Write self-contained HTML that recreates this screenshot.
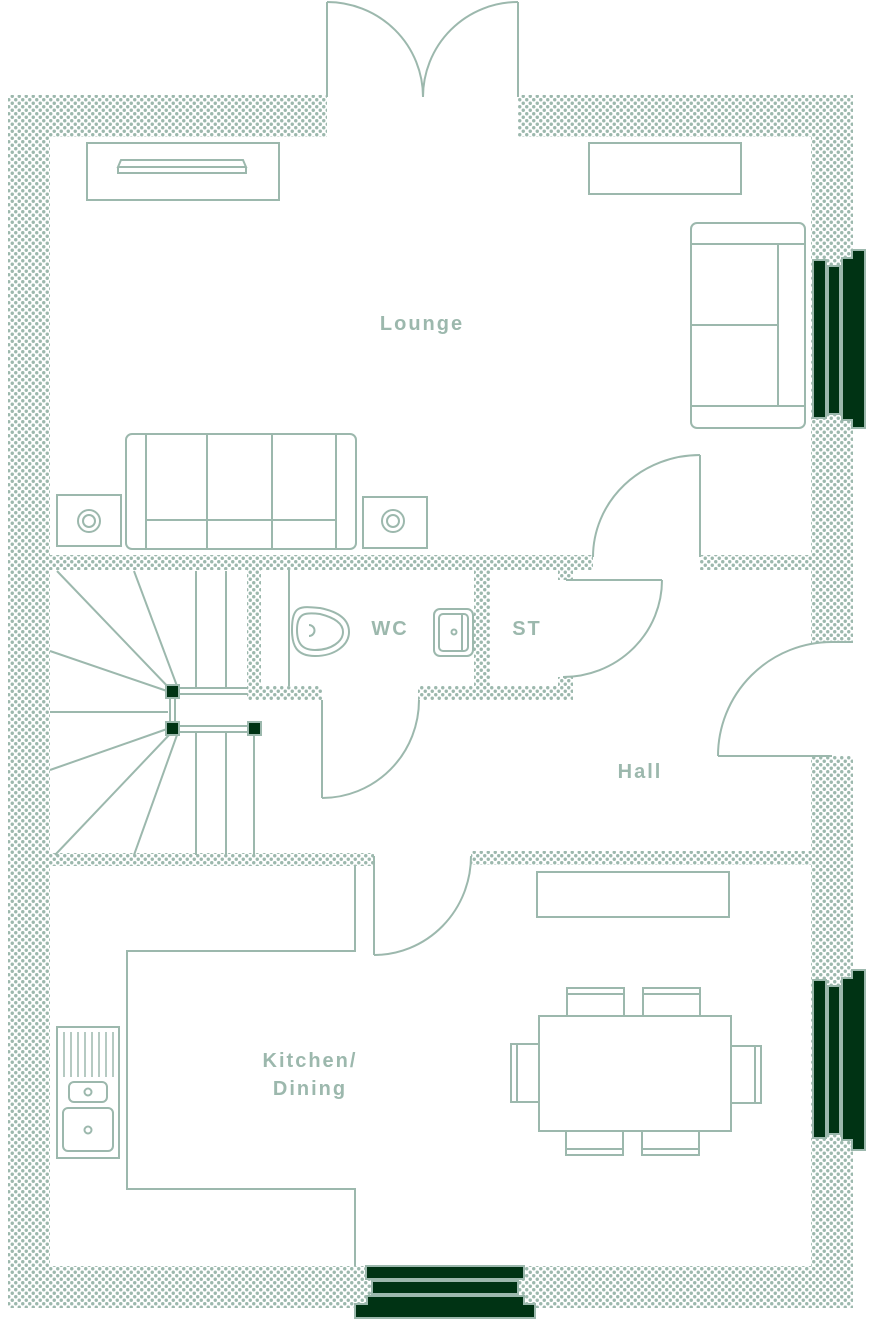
<!DOCTYPE html>
<html><head><meta charset="utf-8"><style>
html,body{margin:0;padding:0;background:#fff}
svg{display:block}
text{font-family:"Liberation Sans",sans-serif;font-size:20px;fill:#9cb8ad;letter-spacing:2px;font-weight:bold;text-anchor:middle}
</style></head><body>
<svg width="876" height="1328" viewBox="0 0 876 1328" xmlns="http://www.w3.org/2000/svg">
<defs>
<pattern id="d" width="7" height="7" patternUnits="userSpaceOnUse">
<rect width="7" height="7" fill="#fff"/>
<circle cx="1.75" cy="1.75" r="1.7" fill="#9cb8ad"/>
<circle cx="5.25" cy="5.25" r="1.7" fill="#9cb8ad"/>
</pattern>
</defs>
<g fill="url(#d)">
<rect x="8" y="95" width="319" height="42"/>
<rect x="518" y="95" width="335" height="42"/>
<rect x="8" y="95" width="42" height="1213"/>
<rect x="811" y="95" width="42" height="548"/>
<rect x="811" y="756" width="42" height="552"/>
<rect x="8" y="1266" width="845" height="42"/>
<rect x="50" y="555" width="543" height="15"/>
<rect x="700" y="555" width="111" height="15"/>
<rect x="558" y="570" width="15" height="10"/>
<rect x="247" y="570" width="14" height="130"/>
<rect x="247" y="686" width="75" height="14"/>
<rect x="418" y="686" width="155" height="14"/>
<rect x="558" y="677" width="15" height="10"/>
<rect x="474" y="570" width="16" height="116"/>
<rect x="50" y="853" width="324" height="13"/>
<rect x="471" y="851" width="340" height="14"/>
</g>
<g fill="none" stroke="#9cb8ad" stroke-width="2">
<line x1="327" y1="2" x2="327" y2="97"/>
<path d="M327 2 A96 95 0 0 1 423 97"/>
<line x1="518" y1="2" x2="518" y2="97"/>
<path d="M518 2 A95 95 0 0 0 423 97"/>
<line x1="700" y1="455" x2="700" y2="557"/>
<path d="M700 455 A107 102 0 0 0 593 557"/>
<line x1="566" y1="580" x2="662" y2="580"/>
<path d="M662 580 A99 97 0 0 1 563 677"/>
<line x1="322" y1="700" x2="322" y2="798"/>
<path d="M322 798 A97 98 0 0 0 419 700"/>
<line x1="718" y1="756" x2="832" y2="756"/>
<path d="M718 756 A114 114 0 0 1 832 642 L853 642"/>
<line x1="374" y1="856" x2="374" y2="955"/>
<path d="M374 955 A97 99 0 0 0 471 856"/>
<polyline points="355,866 355,951 127,951 127,1189 355,1189 355,1266"/>
<rect x="57" y="1027" width="62" height="131"/>
<g stroke-width="1.5">
<line x1="64" y1="1032" x2="64" y2="1077"/><line x1="71" y1="1032" x2="71" y2="1077"/><line x1="78" y1="1032" x2="78" y2="1077"/><line x1="85" y1="1032" x2="85" y2="1077"/><line x1="92" y1="1032" x2="92" y2="1077"/><line x1="99" y1="1032" x2="99" y2="1077"/><line x1="106" y1="1032" x2="106" y2="1077"/><line x1="113" y1="1032" x2="113" y2="1077"/>
</g>
<rect x="69" y="1082" width="38" height="20" rx="5"/>
<circle cx="88" cy="1092" r="3.5"/>
<rect x="63" y="1108" width="50" height="43" rx="5"/>
<circle cx="88" cy="1130" r="3.5"/>
<rect x="539" y="1016" width="192" height="115"/>
<rect x="567" y="988" width="57" height="28"/><line x1="567" y1="994" x2="624" y2="994"/>
<rect x="643" y="988" width="57" height="28"/><line x1="643" y1="994" x2="700" y2="994"/>
<rect x="566" y="1131" width="57" height="24"/><line x1="566" y1="1149" x2="623" y2="1149"/>
<rect x="642" y="1131" width="57" height="24"/><line x1="642" y1="1149" x2="699" y2="1149"/>
<rect x="511" y="1044" width="28" height="58"/><line x1="517" y1="1044" x2="517" y2="1102"/>
<rect x="731" y="1046" width="30" height="57"/><line x1="755" y1="1046" x2="755" y2="1103"/>
<rect x="537" y="872" width="192" height="45"/>
<rect x="87" y="143" width="192" height="57"/>
<path d="M118 167 L121 160 L243 160 L246 167 Z M118 167 L118 173 L246 173 L246 167"/>
<rect x="589" y="143" width="152" height="51"/>
<rect x="691" y="223" width="114" height="205" rx="6"/>
<line x1="691" y1="244" x2="805" y2="244"/><line x1="691" y1="406" x2="805" y2="406"/>
<line x1="778" y1="244" x2="778" y2="406"/><line x1="691" y1="325" x2="778" y2="325"/>
<rect x="126" y="434" width="230" height="115" rx="6"/>
<line x1="146" y1="434" x2="146" y2="549"/><line x1="336" y1="434" x2="336" y2="549"/>
<line x1="207" y1="434" x2="207" y2="549"/><line x1="272" y1="434" x2="272" y2="549"/>
<line x1="146" y1="520" x2="336" y2="520"/>
<rect x="57" y="495" width="64" height="51"/><circle cx="89" cy="521" r="11"/><circle cx="89" cy="521" r="6"/>
<rect x="363" y="497" width="64" height="51"/><circle cx="393" cy="521" r="11"/><circle cx="393" cy="521" r="6"/>
<line x1="289" y1="570" x2="289" y2="686"/>
<path d="M292 630 C292 605 300 606 320 608 C340 612 349 620 349 632 C349 645 335 656 315 656 C296 656 292 645 292 630 Z"/>
<path d="M297 630 C297 613 305 612 320 614 C336 618 343 624 343 632 C343 641 332 650 315 650 C301 650 297 642 297 630 Z"/>
<path d="M309 625 A5 5 0 0 1 309 636"/>
<rect x="434" y="609" width="39" height="47" rx="6"/>
<rect x="439" y="614" width="29" height="37" rx="4"/>
<line x1="462" y1="614" x2="462" y2="651"/>
<circle cx="454" cy="632" r="2.5"/>
<line x1="57" y1="571" x2="172" y2="691"/>
<line x1="134" y1="571" x2="177" y2="686"/>
<line x1="50" y1="651" x2="167" y2="691"/>
<line x1="50" y1="712" x2="168" y2="712"/>
<line x1="50" y1="770" x2="167" y2="729"/>
<line x1="55" y1="855" x2="170" y2="734"/>
<line x1="134" y1="855" x2="177" y2="735"/>
<line x1="196" y1="571" x2="196" y2="688"/><line x1="226" y1="571" x2="226" y2="688"/>
<line x1="196" y1="732" x2="196" y2="855"/><line x1="226" y1="732" x2="226" y2="855"/>
<line x1="254" y1="735" x2="254" y2="855"/>
<line x1="178" y1="688" x2="247" y2="688"/><line x1="178" y1="694" x2="247" y2="694"/>
<line x1="178" y1="726" x2="248" y2="726"/><line x1="178" y1="732" x2="248" y2="732"/>
<line x1="170" y1="697" x2="170" y2="723"/><line x1="175" y1="697" x2="175" y2="723"/>
</g>
<g fill="#003314" stroke="#9cb8ad" stroke-width="2">
<rect x="166" y="685" width="13" height="13"/>
<rect x="166" y="722" width="13" height="13"/>
<rect x="248" y="722" width="13" height="13"/>
<rect x="813" y="260" width="13" height="158"/>
<rect x="828" y="266" width="12" height="148"/>
<path d="M842 258 L852 258 L852 250 L865 250 L865 428 L852 428 L852 420 L842 420 Z"/>
<rect x="813" y="980" width="13" height="158"/>
<rect x="828" y="986" width="12" height="148"/>
<path d="M842 978 L852 978 L852 970 L865 970 L865 1150 L852 1150 L852 1140 L842 1140 Z"/>
<rect x="366" y="1266" width="158" height="13"/>
<rect x="372" y="1281" width="146" height="13"/>
<path d="M367 1296 L524 1296 L524 1304 L535 1304 L535 1318 L355 1318 L355 1304 L367 1304 Z"/>
</g>
<text x="422" y="330">Lounge</text>
<text x="390" y="635">WC</text>
<text x="527" y="635">ST</text>
<text x="640" y="778">Hall</text>
<text x="310" y="1067">Kitchen/</text>
<text x="310" y="1095">Dining</text>
</svg>
</body></html>
